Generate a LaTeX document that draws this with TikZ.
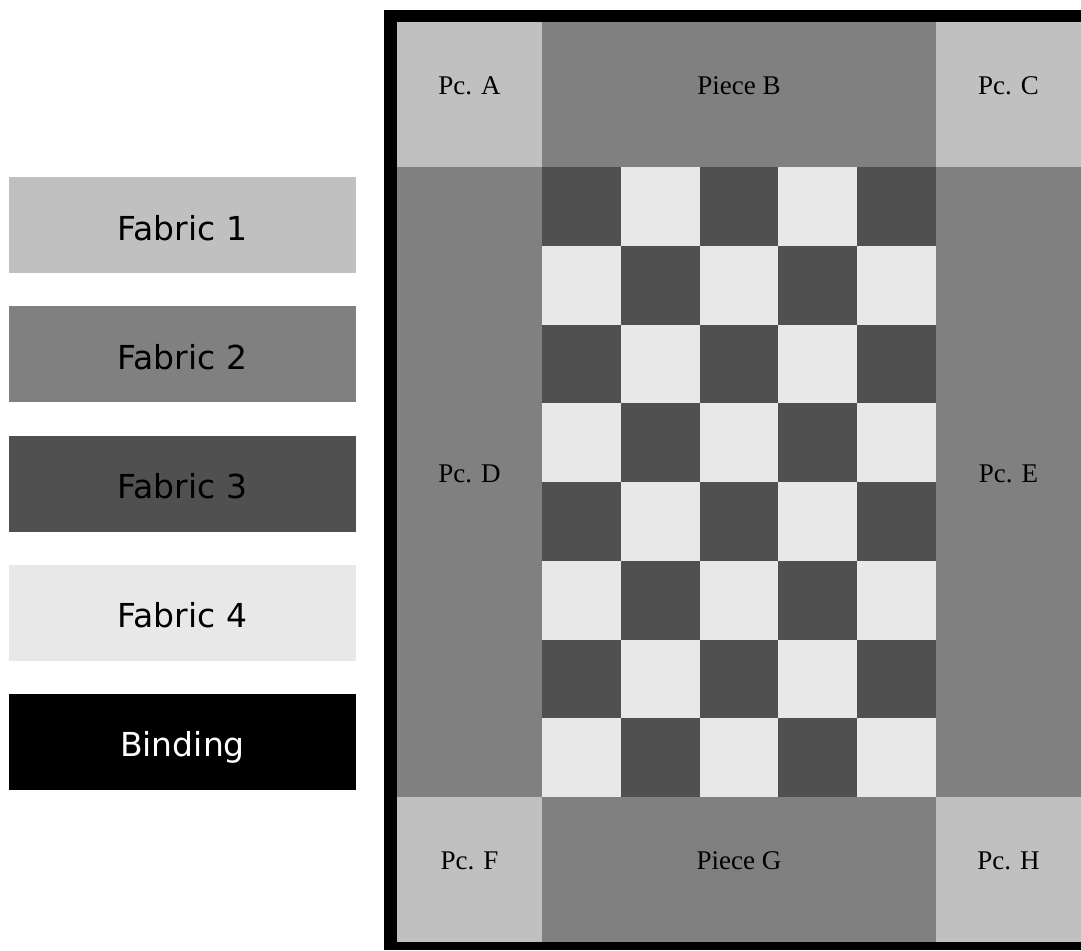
\documentclass[tikz,border=0pt]{standalone}
\usepackage{fontspec}
\setmainfont{Liberation Serif}
\newfontfamily\legendfont{DejaVu Sans}
\definecolor{fabOne}{HTML}{C0C0C0}
\definecolor{fabTwo}{HTML}{808080}
\definecolor{fabThree}{HTML}{505050}
\definecolor{fabFour}{HTML}{E8E8E8}
\tikzset{
  pclabel/.style={anchor=base, inner sep=0pt, font=\fontsize{27}{32}\selectfont, text=black},
  lglabel/.style={anchor=base, inner sep=0pt, font=\legendfont\fontsize{33}{39}\selectfont},
  lgbox/.style={draw=none}
}
\begin{document}
\begin{tikzpicture}[x=1pt,y=-1pt]
\useasboundingbox (0,0) rectangle (1081,950);
% binding
\fill[black] (384,10) rectangle (1100,950);
% corner and border pieces
\fill[fabOne] (397,22) rectangle (542,167);
\fill[fabTwo] (542,22) rectangle (936,167);
\fill[fabOne] (936,22) rectangle (1081,167);
\fill[fabTwo] (397,167) rectangle (542,797);
\fill[fabTwo] (936,167) rectangle (1081,797);
\fill[fabOne] (397,797) rectangle (542,942);
\fill[fabTwo] (542,797) rectangle (936,942);
\fill[fabOne] (936,797) rectangle (1081,942);
% checkerboard
\foreach \r in {0,...,7}{
  \foreach \c in {0,...,4}{
    \pgfmathparse{mod(\r+\c,2)==0 ? "fabThree" : "fabFour"}
    \edef\cellcol{\pgfmathresult}
    \fill[\cellcol] ({542+78.8*\c},{167+78.75*\r}) rectangle ({542+78.8*(\c+1)},{167+78.75*(\r+1)});
  }
}
% quilt labels
\node[pclabel] (pcA) at (469.5,94.5) {Pc. A};
\node[pclabel] (pcB) at (739,94.5) {Piece B};
\node[pclabel] (pcC) at (1008.5,94.5) {Pc. C};
\node[pclabel] (pcD) at (469.5,482) {Pc. D};
\node[pclabel] (pcE) at (1008.5,482) {Pc. E};
\node[pclabel] (pcF) at (469.5,869.5) {Pc. F};
\node[pclabel] (pcG) at (739,869.5) {Piece G};
\node[pclabel] (pcH) at (1008.5,869.5) {Pc. H};
% legend
\fill[fabOne] (9,177) rectangle (356,272.5);
\node[lglabel] (lg1) at (182.5,240) {Fabric 1};
\fill[fabTwo] (9,306) rectangle (356,401.5);
\node[lglabel] (lg2) at (182.5,369) {Fabric 2};
\fill[fabThree] (9,436) rectangle (356,531.5);
\node[lglabel] (lg3) at (182.5,498.5) {Fabric 3};
\fill[fabFour] (9,565) rectangle (356,660.5);
\node[lglabel] (lg4) at (182.5,627.5) {Fabric 4};
\fill[black] (9,694) rectangle (356,789.5);
\node[lglabel, text=white] (lg5) at (182.5,756) {Binding};
\end{tikzpicture}
\end{document}
